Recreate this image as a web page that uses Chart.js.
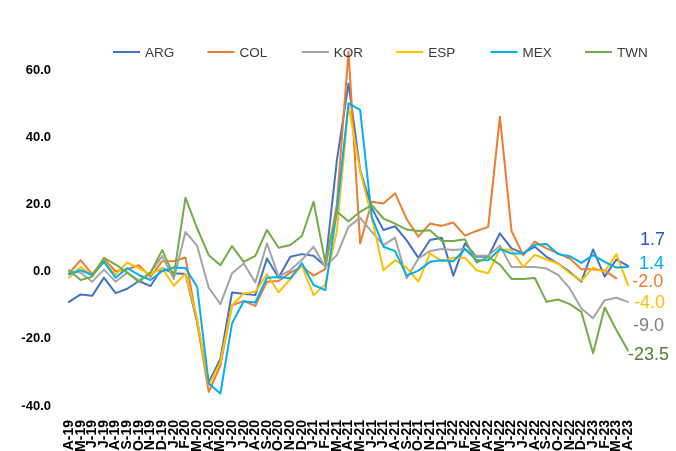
<!DOCTYPE html>
<html>
<head>
<meta charset="utf-8">
<script src="https://cdn.jsdelivr.net/npm/chart.js@4.4.1/dist/chart.umd.min.js"></script>
<style>
  html, body { margin: 0; padding: 0; background: #ffffff; }
  #wrap { width: 676px; height: 451px; position: relative; }
</style>
</head>
<body>
<div id="wrap"><canvas id="c" width="676" height="451"></canvas></div>
<script>
// Monthly year-on-year change, Apr 2019 – Apr 2023
const months = [
  'A-19','M-19','J-19','J-19','A-19','S-19','O-19','N-19','D-19',
  'J-20','F-20','M-20','A-20','M-20','J-20','J-20','A-20','S-20','O-20','N-20','D-20',
  'J-21','F-21','M-21','A-21','M-21','J-21','J-21','A-21','S-21','O-21','N-21','D-21',
  'J-22','F-22','M-22','A-22','M-22','J-22','J-22','A-22','S-22','O-22','N-22','D-22',
  'J-23','F-23','M-23','A-23'
];

const seriesNames = ['ARG', 'COL', 'KOR', 'ESP', 'MEX', 'TWN'];

const arg = [-9.0,-6.8,-7.2,-1.8,-6.4,-5.1,-2.8,-4.3,1.0,-0.5,
  -0.7,-15.0,-33.0,-26.0,-6.2,-6.6,-7.0,3.9,-1.8,4.4,
  5.2,4.7,1.7,33.0,56.0,30.2,18.9,12.4,13.5,9.3,
  4.1,9.4,10.1,-1.2,8.4,4.4,4.4,11.4,6.9,5.4,
  7.4,4.4,2.4,-0.1,-3.0,6.6,-1.5,3.6,1.7];

const col = [-0.5,3.4,-0.8,3.7,0.1,0.7,1.9,-1.6,3.1,3.1,
  4.2,-15.0,-35.8,-28.0,-10.0,-8.8,-10.2,-3.0,-2.8,-0.3,
  1.5,-1.2,0.7,20.0,65.5,8.4,20.8,20.3,23.3,15.6,
  10.4,14.3,13.6,14.6,10.7,12.1,13.3,46.1,12.1,4.9,
  8.9,6.9,5.4,3.9,0.7,0.7,0.3,-2.0,null];

const kor = [0.1,-0.3,-3.0,0.6,-3.0,-0.3,-2.7,-0.3,4.6,-2.2,
  11.8,7.7,-4.8,-9.7,-0.5,2.4,-3.2,8.4,-1.5,0.4,
  3.5,7.4,1.4,4.9,13.3,16.0,11.8,7.9,10.1,-2.0,
  3.9,6.1,6.7,6.4,6.7,4.7,4.7,7.7,1.4,1.4,
  1.4,0.9,-1.0,-5.0,-11.0,-13.9,-8.5,-7.8,-9.0];

const esp = [-1.8,1.4,-1.2,2.9,-0.8,2.7,1.0,-0.8,1.0,-4.2,
  -0.6,-14.0,-33.8,-27.0,-10.0,-6.5,-6.0,-0.8,-6.2,-2.2,
  1.8,-7.0,-3.8,12.0,49.5,30.0,16.0,0.4,3.4,1.1,
  -3.0,5.4,3.1,4.1,4.1,0.4,-0.5,6.7,6.4,1.4,
  5.0,3.6,2.4,-0.5,-2.7,1.2,-0.1,5.2,-4.0];

const mex = [-0.8,0.4,-1.0,2.9,-1.8,1.0,-1.0,-2.5,0.1,1.2,
  1.1,-4.5,-33.3,-36.3,-15.4,-8.8,-9.2,-1.8,-1.6,-2.0,
  2.5,-4.0,-5.5,18.0,50.1,48.1,16.3,7.4,6.1,-1.2,
  0.3,2.9,3.4,3.1,6.7,3.4,3.4,6.7,5.4,5.4,
  8.0,8.2,5.2,4.6,2.6,4.9,2.9,1.2,1.4];

const twn = [0.4,-2.5,-1.5,4.1,2.1,-0.3,-3.0,-0.3,6.4,-1.2,
  22.0,12.9,4.9,1.9,7.6,2.9,4.7,12.4,7.1,7.9,
  10.6,20.8,2.9,17.8,15.0,17.8,19.8,15.8,14.3,12.5,
  12.1,12.3,9.1,9.1,9.6,2.7,4.4,2.1,-2.2,-2.2,
  -1.9,-9.0,-8.3,-9.7,-12.0,-24.3,-10.7,-17.4,-23.5];

const yTicks = [-40, -20, 0, 20, 40, 60];

const seriesValues = [arg, col, kor, esp, mex, twn];
const lineColors  = ['#4472C4', '#ED7D31', '#A5A5A5', '#FFC000', '#00B0F0', '#70AD47'];
const labelColors = ['#2456C6', '#ED7D31', '#7F7F7F', '#FFC000', '#00B0F0', '#548235'];

const FONT = "'Liberation Sans', Arial, sans-serif";

// Legend row across the top
const topLegend = {
  id: 'topLegend',
  afterDraw(chart, args, opts) {
    const ctx = chart.ctx;
    ctx.save();
    ctx.font = opts.fontSize + 'px ' + FONT;
    ctx.textBaseline = 'middle';
    ctx.textAlign = 'left';
    chart.data.datasets.forEach((ds, i) => {
      const x = opts.startX + i * opts.step;
      ctx.strokeStyle = ds.borderColor;
      ctx.lineWidth = 2;
      ctx.beginPath();
      ctx.moveTo(x, opts.y);
      ctx.lineTo(x + opts.lineLen, opts.y);
      ctx.stroke();
      ctx.fillStyle = opts.color;
      ctx.fillText(ds.label, x + opts.lineLen + 5, opts.y + 1);
    });
    ctx.restore();
  }
};

// Value of each series' final month, written to the right of the line end
const endLabels = {
  id: 'endLabels',
  afterDatasetsDraw(chart, args, opts) {
    const ctx = chart.ctx;
    ctx.save();
    ctx.font = opts.fontSize + 'px ' + FONT;
    ctx.textBaseline = 'middle';
    ctx.textAlign = 'left';
    chart.data.datasets.forEach((ds, i) => {
      let last = ds.data.length - 1;
      while (last >= 0 && (ds.data[last] === null || ds.data[last] === undefined)) last--;
      if (last < 0) return;
      const pt = chart.getDatasetMeta(i).data[last];
      const off = opts.offsets[i];
      ctx.fillStyle = labelColors[i];
      ctx.fillText(ds.data[last].toFixed(1), pt.x + off[0], pt.y + off[1]);
    });
    ctx.restore();
  }
};

const datasets = seriesNames.map((name, i) => ({
  label: name,
  data: seriesValues[i],
  borderColor: lineColors[i],
  backgroundColor: lineColors[i],
  borderWidth: 2,
  pointRadius: 0,
  tension: 0,
  borderJoinStyle: 'round',
  borderCapStyle: 'round',
  clip: false,
  order: seriesNames.length - i
}));

new Chart(document.getElementById('c'), {
  type: 'line',
  data: { labels: months, datasets },
  options: {
    responsive: false,
    animation: false,
    layout: { padding: { top: 70, right: 48, left: 0, bottom: 0 } },
    plugins: {
      legend: { display: false },
      tooltip: { enabled: false },
      topLegend: { startX: 113, step: 94.4, y: 52, lineLen: 27, fontSize: 13.5, color: '#3a3a3a' },
      endLabels: {
        fontSize: 18,
        offsets: [[12, -26], [16, 4], [5, 24], [6, 17.5], [11, -2.5], [0, 4]]
      }
    },
    scales: {
      x: {
        grid: { display: false, drawTicks: false },
        border: { display: false },
        ticks: {
          autoSkip: false,
          maxRotation: 90,
          minRotation: 90,
          padding: 14,
          color: '#000000',
          font: { family: FONT, size: 14, weight: 'bold' }
        },
        afterFit(scale) { scale.height = 45; }
      },
      y: {
        min: yTicks[0],
        max: yTicks[yTicks.length - 1],
        grid: { display: false, drawTicks: false },
        border: { display: false },
        afterBuildTicks(scale) { scale.ticks = yTicks.map(v => ({ value: v })); },
        ticks: {
          padding: 18,
          color: '#000000',
          font: { family: FONT, size: 13, weight: 'bold' },
          callback: v => Number(v).toFixed(1)
        },
        afterFit(scale) { scale.width = 69; }
      }
    }
  },
  plugins: [topLegend, endLabels]
});
</script>
</body>
</html>
